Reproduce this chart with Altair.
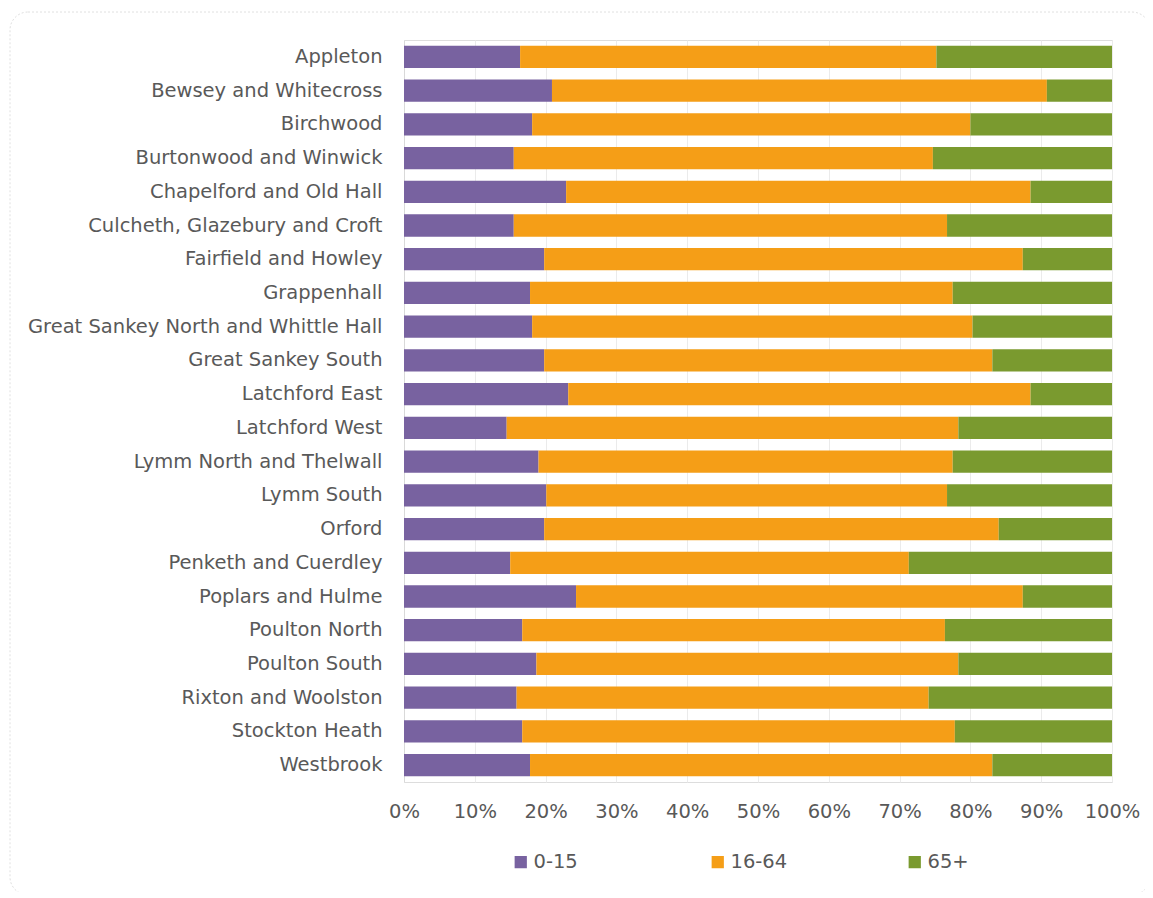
import altair as alt
import pandas as pd

wards = [
    "Appleton", "Bewsey and Whitecross", "Birchwood", "Burtonwood and Winwick",
    "Chapelford and Old Hall", "Culcheth, Glazebury and Croft", "Fairfield and Howley",
    "Grappenhall", "Great Sankey North and Whittle Hall", "Great Sankey South",
    "Latchford East", "Latchford West", "Lymm North and Thelwall", "Lymm South",
    "Orford", "Penketh and Cuerdley", "Poplars and Hulme", "Poulton North",
    "Poulton South", "Rixton and Woolston", "Stockton Heath", "Westbrook",
]
age_0_15 = [16.4, 20.9, 18.1, 15.5, 22.9, 15.5, 19.8, 17.8, 18.1, 19.8, 23.2,
            14.5, 19.0, 20.1, 19.8, 15.0, 24.3, 16.7, 18.7, 15.9, 16.7, 17.8]
age_16_64 = [58.8, 69.9, 61.9, 59.2, 65.6, 61.2, 67.6, 59.7, 62.2, 63.3, 65.3,
             63.8, 58.5, 56.6, 64.2, 56.3, 63.1, 59.7, 59.6, 58.2, 61.1, 65.3]
age_65_plus = [24.8, 9.2, 20.0, 25.3, 11.5, 23.3, 12.6, 22.5, 19.7, 16.9, 11.5,
               21.7, 22.5, 23.3, 16.0, 28.7, 12.6, 23.6, 21.7, 25.9, 22.2, 16.9]
groups = ["0-15", "16-64", "65+"]
colors = ["#7862A0", "#F59E17", "#7A9A2F"]

rows = []
for i, w in enumerate(wards):
    for k, (g, vals) in enumerate(zip(groups, [age_0_15, age_16_64, age_65_plus])):
        rows.append({"ward": w, "group": g, "value": vals[i], "order": k})
df = pd.DataFrame(rows)

FONT = "DejaVu Sans"
FS = 19.5
GREY = "#595959"

bars = alt.Chart(df).mark_bar().encode(
    y=alt.Y("ward:N", sort=wards, title=None,
            scale=alt.Scale(paddingInner=0.34, paddingOuter=0.17),
            axis=alt.Axis(ticks=False, labelPadding=22, labelFontSize=FS,
                          labelColor=GREY, labelFont=FONT, domain=True,
                          domainColor="#D9D9D9", grid=False, labelLimit=400)),
    x=alt.X("value:Q", stack="normalize", title=None,
            scale=alt.Scale(domain=[0, 1], nice=False),
            axis=alt.Axis(format=".0%", values=[i / 10 for i in range(11)],
                          ticks=False, domain=False, grid=True,
                          gridColor="#EBEBEB", labelPadding=20,
                          labelFontSize=FS, labelColor=GREY, labelFont=FONT,
                          labelFlush=False)),
    color=alt.Color("group:N", sort=groups,
                    scale=alt.Scale(domain=groups, range=colors),
                    legend=alt.Legend(title=None, orient="none", legendX=107,
                                      legendY=812, direction="horizontal",
                                      columns=3, gridAlign="all",
                                      columnPadding=117, symbolType="square",
                                      symbolSize=150, symbolStrokeWidth=0,
                                      labelFontSize=FS, labelColor=GREY,
                                      labelFont=FONT, labelOffset=3)),
    order=alt.Order("order:Q"),
)

border = alt.Chart(pd.DataFrame({"a": [0]})).mark_rect(
    fill=None, stroke="#E0E0E0", strokeDash=[2, 2], cornerRadius=18, strokeWidth=1
).encode(x=alt.value(-394), x2=alt.value(746), y=alt.value(-28), y2=alt.value(855))

chart = alt.layer(border, bars).properties(
    width=708, height=742,
    autosize=alt.AutoSizeParams(type="none"),
    padding={"left": 396, "top": 32, "right": 33, "bottom": 110},
).configure_view(stroke=None).configure(background="white")

chart.save("out.html", embed_options={"renderer": "svg", "actions": False})
